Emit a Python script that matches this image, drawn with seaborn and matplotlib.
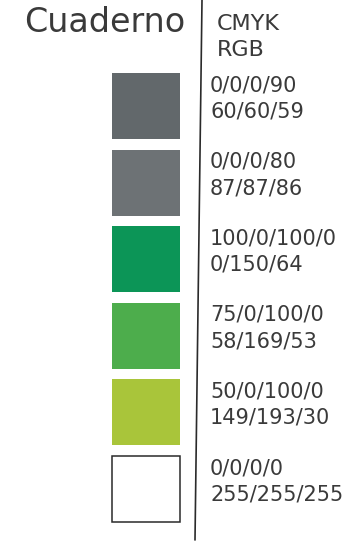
import matplotlib
matplotlib.use("Agg")
import matplotlib.pyplot as plt
import seaborn as sns
import pandas as pd
from matplotlib.lines import Line2D

# ---- data ----
swatch_names = ["Gris 90", "Gris 80", "Verde 100", "Verde 75", "Verde 50", "Blanco"]
cmyk_values = ["0/0/0/90", "0/0/0/80", "100/0/100/0", "75/0/100/0", "50/0/100/0", "0/0/0/0"]
rgb_values = ["60/60/59", "87/87/86", "0/150/64", "58/169/53", "149/193/30", "255/255/255"]
swatch_colors = ["#62686b", "#6d7275", "#0c9557", "#4dad4c", "#a9c53a", "#ffffff"]
swatch_width = [1, 1, 1, 1, 1, 1]
title_text = "Cuaderno"
header_lines = ["CMYK", "RGB"]

W, H = 356, 547
sns.set_theme(style="white")
plt.rcParams["font.family"] = ["DejaVu Sans"]
fig = plt.figure(figsize=(W / 100, H / 100), dpi=100)
fig.patch.set_facecolor("white")

def fx(px):
    return px / W

def fy(py):
    return 1 - py / H

top_px, pitch = 67.7, 76.6
left_px, right_px = 112, 180
ax = fig.add_axes([fx(left_px), fy(top_px + 6 * pitch), fx(right_px - left_px), 6 * pitch / H])

df = pd.DataFrame({"name": swatch_names, "w": swatch_width})
sns.barplot(data=df, x="w", y="name", hue="name", palette=swatch_colors,
            legend=False, width=0.86, orient="h", ax=ax, saturation=1)
ax.set_xlim(0, 1)
ax.set_ylim(5.5, -0.5)
ax.axis("off")
for i, p in enumerate(ax.patches):
    p.set_clip_on(False)
    if swatch_colors[i].lower() == "#ffffff":
        p.set_edgecolor("#2a2a2a")
        p.set_linewidth(1.1)
    else:
        p.set_edgecolor("none")

txt_color = "#3a3a3a"
text_x = (210 - left_px) / (right_px - left_px)
for i, (c, r) in enumerate(zip(cmyk_values, rgb_values)):
    ax.text(text_x, i - 0.10, f"{c}\n{r}", ha="left", va="center",
            fontsize=15, color=txt_color, linespacing=1.4, clip_on=False)

fig.text(fx(185), fy(23), title_text, ha="right", va="center",
         fontsize=24, color=txt_color)
fig.text(fx(217), fy(37), "\n".join(header_lines), ha="left", va="center",
         fontsize=16, color=txt_color, linespacing=1.35)

fig.add_artist(Line2D([fx(202), fx(195)], [fy(0), fy(540)],
                      transform=fig.transFigure, color="#2a2a2a", lw=1.2))

fig.savefig("out.png", dpi=100, facecolor="white")
